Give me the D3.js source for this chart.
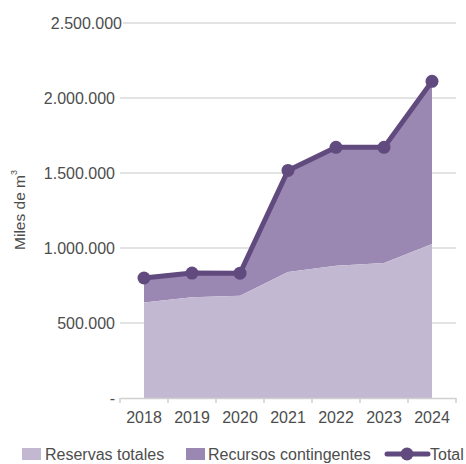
<!DOCTYPE html>
<html>
<head>
<meta charset="utf-8">
<script src="https://cdn.jsdelivr.net/npm/d3@7"></script>
<style>
    body { margin: 0; background: #fff; }
    text { font-family: "Liberation Sans", Arial, sans-serif; fill: #4d4d4d; }
</style>
</head>
<body>
<div id="chart"></div>
<script>
// data (miles de m3)
const years = ["2018", "2019", "2020", "2021", "2022", "2023", "2024"];
const reservas = [637000, 671000, 681000, 840000, 882000, 900000, 1027000];
const recursos = [163000, 162000, 151000, 677000, 789000, 771000, 1084000];
const total = [800000, 833000, 832000, 1517000, 1671000, 1671000, 2111000];
const yTicks = [0, 500000, 1000000, 1500000, 2000000, 2500000];

const colReservas = "#c2b8d1";
const colRecursos = "#9a88b3";
const colTotal = "#614a7e";

const width = 466, height = 464;
const margin = {top: 23, right: 10, bottom: 66, left: 120};

const svg = d3.select("#chart").append("svg")
    .attr("width", width)
    .attr("height", height);

const x = d3.scaleBand()
    .domain(years)
    .range([margin.left, 456]);

const y = d3.scaleLinear()
    .domain([0, 2500000])
    .range([398, margin.top]);

const cx = d => x(d) + x.bandwidth() / 2;
const fmt = v => v === 0 ? "-" : d3.format(",")(v).replace(/,/g, ".");

// gridlines (top one starts a bit further right, like the original)
svg.append("g")
    .selectAll("line")
    .data(yTicks.filter(d => d > 0))
    .enter()
    .append("line")
    .attr("x1", d => d === 2500000 ? 123 : margin.left)
    .attr("x2", 456)
    .attr("y1", d => y(d))
    .attr("y2", d => y(d))
    .attr("stroke", "#dadada")
    .attr("stroke-width", 1.5);

// y labels
svg.append("g")
    .selectAll("text")
    .data(yTicks)
    .enter()
    .append("text")
    .attr("x", d => d === 2500000 ? 122 : 115)
    .attr("y", d => y(d))
    .attr("dy", "0.35em")
    .attr("text-anchor", "end")
    .attr("font-size", "16px")
    .text(fmt);

// stacked areas
let stack = years.map((yr, i) => ({year: yr, r: reservas[i], c: recursos[i]}));

svg.append("path")
    .datum(stack)
    .attr("fill", colRecursos)
    .attr("d", d3.area()
        .x(d => cx(d.year))
        .y0(d => y(d.r))
        .y1(d => y(d.r + d.c)));

svg.append("path")
    .datum(stack)
    .attr("fill", colReservas)
    .attr("d", d3.area()
        .x(d => cx(d.year))
        .y0(y(0))
        .y1(d => y(d.r)));

// x axis
const xAxis = svg.append("g")
    .attr("transform", "translate(0," + y(0) + ")")
    .call(d3.axisBottom(x).tickSize(0).tickPadding(14));
xAxis.select(".domain").attr("stroke", "#d0d0d0").attr("stroke-width", 1.5);
xAxis.selectAll("text")
    .attr("font-size", "16px")
    .style("font-family", "Liberation Sans, Arial, sans-serif")
    .attr("fill", "#4d4d4d");
xAxis.selectAll(".tick line").remove();

// tick marks between categories
svg.append("g")
    .selectAll("line")
    .data(years.concat(["end"]))
    .enter()
    .append("line")
    .attr("x1", (d, i) => margin.left + i * x.bandwidth())
    .attr("x2", (d, i) => margin.left + i * x.bandwidth())
    .attr("y1", y(0))
    .attr("y2", y(0) + 5)
    .attr("stroke", "#d0d0d0")
    .attr("stroke-width", 1.5);

// total line
svg.append("path")
    .datum(total)
    .attr("fill", "none")
    .attr("stroke", colTotal)
    .attr("stroke-width", 5)
    .attr("stroke-linejoin", "round")
    .attr("d", d3.line()
        .x((d, i) => cx(years[i]))
        .y(d => y(d)));

svg.append("g")
    .selectAll("circle")
    .data(total)
    .enter()
    .append("circle")
    .attr("cx", (d, i) => cx(years[i]))
    .attr("cy", d => y(d))
    .attr("r", 6.5)
    .attr("fill", colTotal);

// y axis title
svg.append("text")
    .attr("transform", "translate(25,210) rotate(-90)")
    .attr("text-anchor", "middle")
    .attr("font-size", "15.5px")
    .html('Miles  de m<tspan dy="-8" font-size="9px">3</tspan>');

// legend
const leg = svg.append("g").attr("transform", "translate(0,454)");

leg.append("rect").attr("x", 22).attr("y", -6).attr("width", 19).attr("height", 12).attr("fill", colReservas);
leg.append("text").attr("x", 45).attr("dy", "0.35em").attr("font-size", "16px").text("Reservas totales");

leg.append("rect").attr("x", 186).attr("y", -6).attr("width", 19).attr("height", 12).attr("fill", colRecursos);
leg.append("text").attr("x", 208).attr("dy", "0.35em").attr("font-size", "16px").text("Recursos contingentes");

leg.append("line").attr("x1", 387).attr("x2", 428).attr("y1", 0).attr("y2", 0)
    .attr("stroke", colTotal).attr("stroke-width", 5).attr("stroke-linecap", "round");
leg.append("circle").attr("cx", 407).attr("cy", 0).attr("r", 6.5).attr("fill", colTotal);
leg.append("text").attr("x", 430).attr("dy", "0.35em").attr("font-size", "16px").text("Total");
</script>
</body>
</html>
